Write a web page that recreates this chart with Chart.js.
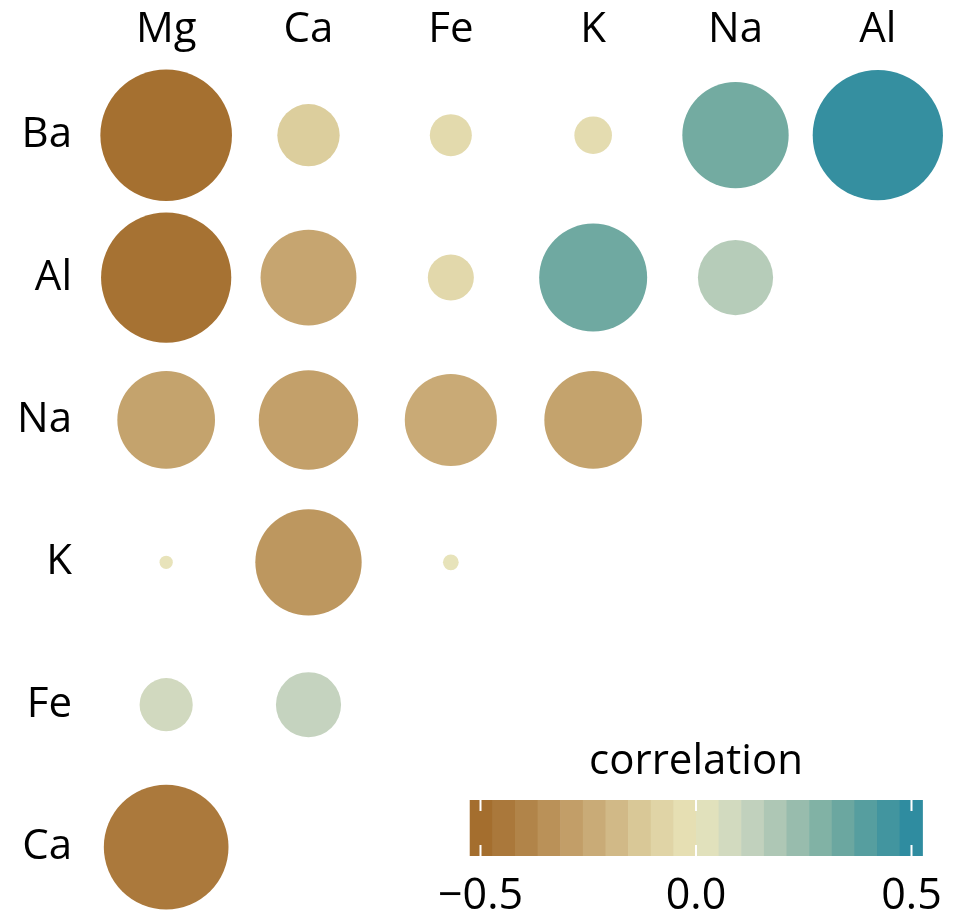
<!DOCTYPE html>
<html>
<head>
<meta charset="utf-8">
<script src="https://cdn.jsdelivr.net/npm/chart.js@4"></script>
<style>
  body { margin: 0; background: #fff; }
  #wrap { width: 961px; height: 912px; }
</style>
</head>
<body>
<div id="wrap"><canvas id="corr" width="961" height="912"></canvas></div>
<script>
// columns / rows of the correlogram
const columns = ['Mg', 'Ca', 'Fe', 'K', 'Na', 'Al'];
const rows = ['Ba', 'Al', 'Na', 'K', 'Fe', 'Ca'];

// correlations, one array per row (lower triangle, in column order)
const corrBa = [-0.49, -0.11, -0.05, -0.04, 0.32, 0.48];
const corrAl = [-0.48, -0.26, -0.06, 0.33, 0.16];
const corrNa = [-0.27, -0.28, -0.24, -0.27];
const corrK = [0.005, -0.32, 0.007];
const corrFe = [0.08, 0.12];
const corrCa = [-0.44];

// colour bar
const legendTicks = [-0.5, 0.0, 0.5];
const legendLimits = [-0.525, 0.525];
// brown - cream - teal, evenly spaced over legendLimits
const earthPalette = ['#A16928', '#AD7D41', '#BE9860', '#CDB17F', '#DDCF9F', '#E9E4BA',
                      '#CAD6C1', '#A4C2B1', '#75ACA1', '#4B999E', '#2587A1'];

const FONT = "'Open Sans', 'Noto Sans', sans-serif";
const SIZE_K = 94; // bubble area proportional to |r|

function hexToRgb(h) {
    return [1, 3, 5].map(i => parseInt(h.substr(i, 2), 16));
}

function earthColor(v) {
    let t = (v - legendLimits[0]) / (legendLimits[1] - legendLimits[0]);
    t = Math.max(0, Math.min(1, t));
    const pos = t * (earthPalette.length - 1);
    const i = Math.min(Math.floor(pos), earthPalette.length - 2);
    const f = pos - i;
    const a = hexToRgb(earthPalette[i]);
    const b = hexToRgb(earthPalette[i + 1]);
    const c = a.map((x, k) => Math.round(x + (b[k] - x) * f));
    return `rgb(${c[0]}, ${c[1]}, ${c[2]})`;
}

const allRows = [corrBa, corrAl, corrNa, corrK, corrFe, corrCa];
const points = [];
allRows.forEach((vals, ri) => {
    vals.forEach((v, ci) => points.push({ x: ci, y: ri, r: SIZE_K * Math.sqrt(Math.abs(v)), v: v }));
});

// colour bar drawn under the matrix
const colorBarPlugin = {
    id: 'colorBar',
    afterDraw(chart) {
        const ctx = chart.ctx;
        const zeroX = 696, perUnit = 431;
        const top = 800, bottom = 856;
        const toX = v => zeroX + v * perUnit;
        const x0 = toX(legendLimits[0]), x1 = toX(legendLimits[1]);
        const nbin = 20;
        const w = (x1 - x0) / nbin;
        ctx.save();
        for (let i = 0; i < nbin; i++) {
            const v = legendLimits[0] + (i + 0.5) * (legendLimits[1] - legendLimits[0]) / nbin;
            ctx.fillStyle = earthColor(v);
            ctx.fillRect(x0 + i * w, top, w + 0.6, bottom - top);
        }
        // white ticks
        ctx.strokeStyle = '#fff';
        ctx.lineWidth = 2;
        legendTicks.forEach(t => {
            const x = toX(t);
            ctx.beginPath();
            ctx.moveTo(x, top); ctx.lineTo(x, top + 11);
            ctx.moveTo(x, bottom - 11); ctx.lineTo(x, bottom);
            ctx.stroke();
        });
        ctx.fillStyle = '#000';
        ctx.font = `42px ${FONT}`;
        ctx.textAlign = 'center';
        ctx.textBaseline = 'alphabetic';
        ctx.fillText('correlation', (x0 + x1) / 2, 774);
        ctx.font = `43px ${FONT}`;
        legendTicks.forEach(t => {
            const lab = t < 0 ? '\u2212' + Math.abs(t).toFixed(1) : t.toFixed(1);
            ctx.fillText(lab, toX(t), 909);
        });
        ctx.restore();
    }
};

new Chart(document.getElementById('corr'), {
    type: 'bubble',
    data: {
        datasets: [{
            data: points,
            backgroundColor: c => earthColor(c.raw.v),
            borderWidth: 0,
            hoverBorderWidth: 0,
            clip: false
        }]
    },
    options: {
        responsive: false,
        animation: false,
        devicePixelRatio: 1,
        layout: { autoPadding: false, padding: { left: 0, right: 12, top: 0, bottom: 0 } },
        plugins: {
            legend: { display: false },
            tooltip: { enabled: false }
        },
        scales: {
            x: {
                type: 'linear',
                position: 'top',
                min: -0.5,
                max: 5.5,
                grid: { display: false, drawTicks: false },
                border: { display: false },
                afterBuildTicks: s => { s.ticks = columns.map((_, i) => ({ value: i })); },
                afterFit: s => { s.height = 64; s.paddingLeft = 0; s.paddingRight = 0; },
                ticks: {
                    callback: v => columns[v],
                    color: '#000',
                    font: { family: FONT, size: 42 },
                    padding: 9,
                    maxRotation: 0
                }
            },
            y: {
                type: 'linear',
                reverse: true,
                min: -0.5,
                max: 5.456,
                grid: { display: false, drawTicks: false },
                border: { display: false },
                afterBuildTicks: s => { s.ticks = rows.map((_, i) => ({ value: i })); },
                afterFit: s => { s.width = 95; s.paddingTop = 0; s.paddingBottom = 0; },
                ticks: {
                    callback: v => rows[v],
                    color: '#000',
                    font: { family: FONT, size: 42 },
                    padding: 23
                }
            }
        }
    },
    plugins: [colorBarPlugin]
});
</script>
</body>
</html>
